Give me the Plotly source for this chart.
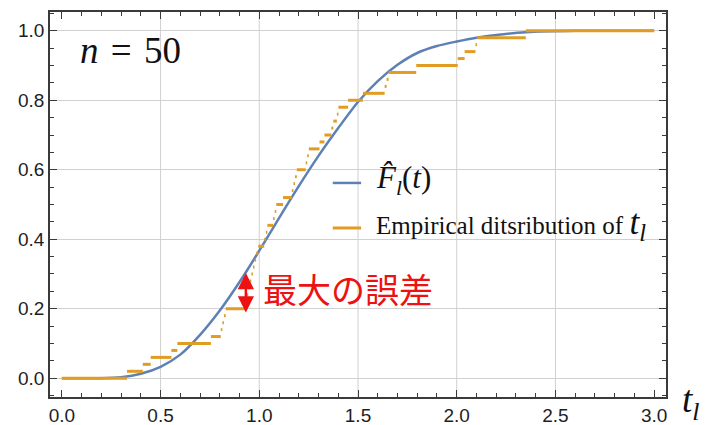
import plotly.graph_objects as go

# Sorted sample values t_l (n = 50); step k of the empirical CDF starts at t_k
samples = [
    0.330, 0.410, 0.450, 0.555, 0.585, 0.755, 0.805, 0.813, 0.821, 0.830,
    0.928, 0.936, 0.944, 0.952, 0.960, 0.968, 0.976, 0.984, 0.995, 1.025,
    1.033, 1.041, 1.070, 1.078, 1.086, 1.120, 1.165, 1.173, 1.181, 1.190,
    1.235, 1.243, 1.251, 1.305, 1.330, 1.365, 1.375, 1.393, 1.401, 1.450,
    1.525, 1.635, 1.645, 1.655, 1.795, 2.005, 2.040, 2.095, 2.103, 2.350,
]

# Fitted distribution function F_l(t), read at these points
fit_t = [0.0, 0.2, 0.3, 0.4, 0.5, 0.6, 0.7, 0.8, 0.9, 1.0, 1.1, 1.2, 1.3,
         1.4, 1.5, 1.6, 1.7, 1.8, 1.9, 2.0, 2.1, 2.2, 2.35, 2.6, 3.0]
fit_F = [0.0, 0.0, 0.003, 0.013, 0.033, 0.068, 0.125, 0.195, 0.277, 0.367,
         0.461, 0.553, 0.640, 0.720, 0.795, 0.855, 0.902, 0.936, 0.956, 0.969,
         0.980, 0.988, 0.996, 1.0, 1.0]

x_ticks = [0.0, 0.5, 1.0, 1.5, 2.0, 2.5, 3.0]
y_ticks = [0.0, 0.2, 0.4, 0.6, 0.8, 1.0]
x_grid = [0.5, 1.0, 1.5, 2.0, 2.5]
x_range = [-0.06, 3.06]
y_range = [-0.054, 1.054]

# Largest gap between the two curves
gap_t = 0.932
gap_lo, gap_hi = 0.185, 0.303

n = len(samples)
edges = [0.0] + samples + [3.0]
step_x, step_y = [], []
for k in range(n + 1):
    step_x += [edges[k], edges[k + 1], None]
    step_y += [k / n, k / n, None]

BLUE = "#5E81B5"
ORANGE = "#E19C24"
FRAME = "#3a3a3a"
RED = "#ee1111"
SERIF = "Liberation Serif"

fig = go.Figure()
fig.add_trace(go.Scatter(
    x=fit_t, y=fit_F, mode="lines",
    line=dict(color=BLUE, width=2.5, shape="spline", smoothing=0.8),
    showlegend=False, hoverinfo="skip",
))
fig.add_trace(go.Scatter(
    x=step_x, y=step_y, mode="lines",
    line=dict(color=ORANGE, width=3),
    showlegend=False, hoverinfo="skip", connectgaps=False,
))

# vertical grid lines (none at the range ends)
for gx in x_grid:
    fig.add_shape(type="line", xref="x", yref="paper", x0=gx, x1=gx, y0=0, y1=1,
                  line=dict(color="#d0d0d0", width=1), layer="below")

axis_common = dict(
    ticks="inside", ticklen=7, tickwidth=1, tickcolor=FRAME,
    showline=True, linecolor=FRAME, linewidth=1.5, mirror="ticks",
    zeroline=False, tickformat=".1f", automargin=False,
    tickfont=dict(family="Liberation Sans", size=19, color="#1e1e1e"),
)

fig.update_xaxes(
    range=x_range, tickvals=x_ticks, showgrid=False,
    minor=dict(dtick=0.1, tick0=0, ticks="inside", ticklen=4,
               tickcolor=FRAME, showgrid=False),
    **axis_common,
)
fig.update_yaxes(
    range=y_range, tickvals=y_ticks, showgrid=True,
    gridcolor="#d0d0d0", gridwidth=1,
    minor=dict(dtick=0.05, tick0=0, ticks="inside", ticklen=4,
               tickcolor=FRAME, showgrid=False),
    **axis_common,
)

# Double-headed arrow marking the largest error
fig.add_annotation(
    x=gap_t, y=gap_hi, ax=gap_t, ay=gap_lo, xref="x", yref="y",
    axref="x", ayref="y", text="", showarrow=True,
    arrowside="end+start", arrowhead=2, startarrowhead=2,
    arrowsize=1.3, startarrowsize=1.3, arrowwidth=2.5, arrowcolor=RED,
)
fig.add_annotation(
    x=0.3425, y=0.282, xref="paper", yref="paper", xanchor="left", yanchor="middle",
    text="最大の誤差", showarrow=False,
    font=dict(family="Noto Sans CJK JP", size=34, color=RED),
)

# Sample size
fig.add_annotation(
    x=0.046, y=0.901, xref="paper", yref="paper", xanchor="left", yanchor="middle",
    text="<i>n</i>\u00a0\u200a=\u00a0\u200a50", showarrow=False,
    font=dict(family=SERIF, size=37, color="#111111"),
)

# Legend
fig.add_shape(type="line", xref="paper", yref="paper", x0=0.459, x1=0.505,
              y0=0.556, y1=0.556, line=dict(color=BLUE, width=2.5))
fig.add_shape(type="line", xref="paper", yref="paper", x0=0.459, x1=0.505,
              y0=0.439, y1=0.439, line=dict(color=ORANGE, width=3))
fig.add_annotation(
    x=0.526, y=0.563, xref="paper", yref="paper", xanchor="left", yanchor="middle",
    text="<i>F̂</i><sub><i>l</i></sub>(<i>t</i>)", showarrow=False,
    font=dict(family=SERIF, size=31, color="#111111"),
)
fig.add_annotation(
    x=0.526, y=0.447, xref="paper", yref="paper", xanchor="left", yanchor="middle",
    text="Empirical ditsribution of <span style='font-size:35px'><i>t</i><sub><i>l</i></sub></span>",
    showarrow=False,
    font=dict(family=SERIF, size=25, color="#111111"),
)

# x-axis title
fig.add_annotation(
    x=1.022, y=-0.015, xref="paper", yref="paper", xanchor="left", yanchor="middle",
    text="<i>t</i><sub><i>l</i></sub>", showarrow=False,
    font=dict(family=SERIF, size=37, color="#111111"),
)

fig.update_layout(
    width=709, height=425,
    margin=dict(l=50, r=43, t=12, b=28),
    paper_bgcolor="white", plot_bgcolor="white",
    showlegend=False,
)

fig.write_html("out.html")
